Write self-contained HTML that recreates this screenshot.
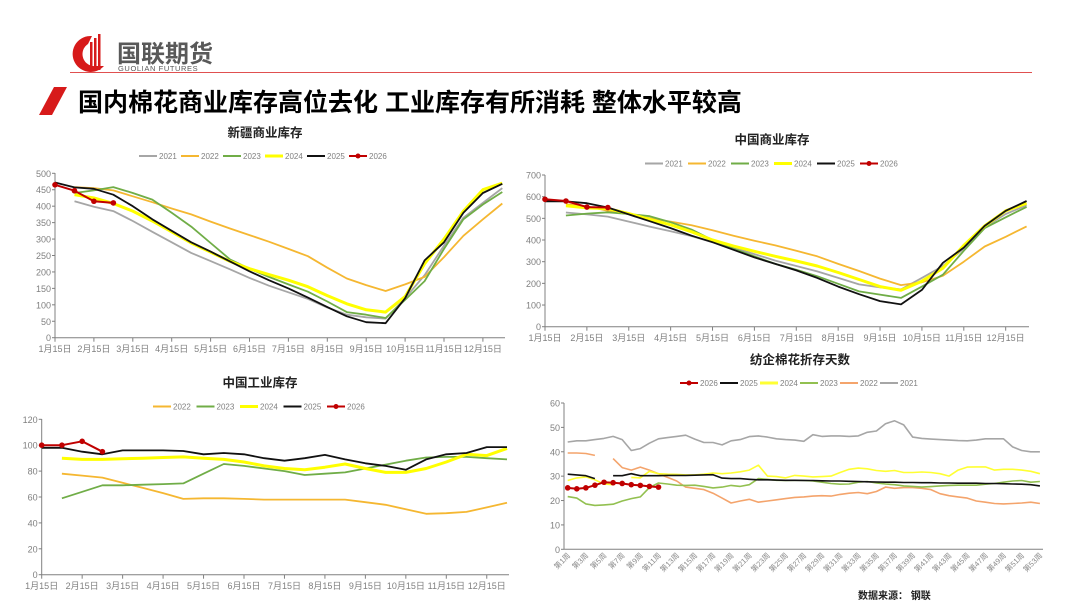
<!DOCTYPE html>
<html><head><meta charset="utf-8">
<style>
html,body{margin:0;padding:0;background:#fff;}
body{width:1080px;height:608px;overflow:hidden;position:relative;font-family:"Liberation Sans","Noto Sans CJK SC",sans-serif;}
svg text{font-family:"Liberation Sans","Noto Sans CJK SC",sans-serif;}
</style></head>
<body>
<svg id="s" width="1080" height="608" viewBox="0 0 1080 608" xmlns="http://www.w3.org/2000/svg">
  <g>
    <path d="M92 36 A18 18 0 1 0 104 66 L96 66 A12 12 0 0 1 88 44 Z" fill="#d71a1a"/>
    <rect x="90" y="42" width="2.5" height="28" fill="#d71a1a"/>
    <rect x="94" y="38" width="2.5" height="32" fill="#d71a1a"/>
    <rect x="98" y="34" width="2.5" height="36" fill="#d71a1a"/>
    <text x="117" y="62" font-size="24" font-weight="bold" fill="#595959">国联期货</text>
    <text x="118" y="71" font-size="7.5" fill="#595959" letter-spacing="0.6">GUOLIAN FUTURES</text>
  </g>
  <line x1="70" y1="72.5" x2="1032" y2="72.5" stroke="#e05050" stroke-width="1"/>
  <polygon points="54,87 67,87 52,115 39,115" fill="#d71a1a"/>
  <text x="78" y="111" font-size="25" font-weight="bold" fill="#000">国内棉花商业库存高位去化 工业库存有所消耗 整体水平较高</text>
  <text x="858" y="599" font-size="10" font-weight="bold" fill="#222">数据来源：   钢联</text>
</svg>
<script>
const NS='http://www.w3.org/2000/svg';
const svg=document.getElementById('s');
function mk(tag,attrs,parent){const e=document.createElementNS(NS,tag);for(const k in attrs)e.setAttribute(k,attrs[k]);(parent||svg).appendChild(e);return e;}

// ---------- data ----------
const monthLabels=['1月15日','2月15日','3月15日','4月15日','5月15日','6月15日','7月15日','8月15日','9月15日','10月15日','11月15日','12月15日'];
const c1Years=['2021','2022','2023','2024','2025','2026'];
const c1_2021=[null,415,398,385,355,322,290,258,233,208,182,158,138,118,92,70,62,58,120,190,280,365,410,455];
const c1_2022=[null,458,455,448,430,412,393,375,353,332,312,292,270,248,213,180,160,142,162,185,245,310,360,408];
const c1_2023=[null,440,448,458,440,420,380,338,288,238,210,185,162,140,110,78,70,60,115,172,270,360,405,443];
const c1_2024=[null,435,425,408,385,355,322,288,260,232,210,192,175,155,128,103,85,78,125,225,300,385,450,470];
const c1_2025=[472,457,453,435,400,360,325,290,262,232,202,175,150,122,93,65,47,44,120,235,290,380,440,468];
const c1_2026=[465,447,415,410];
const c1Ticks=[0,50,100,150,200,250,300,350,400,450,500];

const c2_2021=[null,527,518,508,485,462,440,418,390,365,335,305,280,255,225,195,182,172,225,280,360,460,520,560];
const c2_2022=[null,565,555,535,520,500,485,468,445,420,397,375,350,325,290,257,222,192,205,235,300,370,415,463];
const c2_2023=[null,513,522,528,520,510,482,448,400,360,325,290,263,233,198,163,148,133,185,240,350,455,505,553];
const c2_2024=[null,558,548,545,522,495,470,438,400,372,348,325,303,280,250,218,185,168,210,270,375,465,535,570];
const c2_2025=[578,578,570,550,518,487,455,420,390,355,320,290,260,225,185,150,118,103,170,295,365,465,535,580];
const c2_2026=[588,580,552,550];
const c2Ticks=[0,100,200,300,400,500,600,700];

const c3Years=['2022','2023','2024','2025','2026'];
const c3_2022=[null,78,76.5,75,71,67,63,58.5,59,59,58.5,58,58,58,58,58,56,54,50.5,47,47.5,48.5,52,55.5];
const c3_2023=[null,59,64,69,69,69.5,70,70.5,78,85.5,84,82,80,77,78,79,82,85,88,90.5,91,91,90,89];
const c3_2024=[null,90,89,89,89.5,90,90.5,91,90,89,87,84,82,81,83,85.5,82,79,79,82,87,93,92,97.5];
const c3_2025=[98,98,95,93,96,96,96,95.5,93,94,93,90,88,90,92.5,89,86,84,81,89,93,94,98.5,98.5];
const c3_2026=[100,100,103,95];
const c3Ticks=[0,20,40,60,80,100,120];

const c4Years=['2026','2025','2024','2023','2022','2021'];
const c4_2021=[44,44.5,44.5,45,45.5,46.3,45,40.5,41.3,43.5,45.3,45.8,46.3,46.8,45.2,43.8,43.8,42.8,44.5,45,46.2,46.5,46,45.3,45,44.8,44.3,47,46.3,46.5,46.5,46.3,46.5,48,48.5,51.5,52.7,51,46,45.5,45.2,45,44.8,44.6,44.5,44.8,45.3,45.3,45.3,42,40.5,40,40];
const c4_2022=[39.5,39.5,39.3,38.5,null,37.2,33.5,32.5,33.7,32.5,31,29.5,28,25.5,25,24.5,23,21,19,19.8,20.5,19.3,19.8,20.3,20.8,21.3,21.5,21.8,22,21.8,22.5,23,23.3,22.8,23.7,25.5,25,25.3,25.3,25,24.5,22.8,22,21.5,21,19.8,19.3,18.8,18.6,18.8,19,19.3,18.8];
const c4_2023=[21.6,21,18.6,18,18.2,18.5,19.8,20.8,21.5,25.3,27.2,26.8,26.3,26.2,26.3,25.8,25.2,25.5,26.2,25.8,26.5,29,28.7,28.3,28.2,28.3,28.3,28,27.5,27,26.7,26.8,27.5,27.8,27.2,26.8,26.5,26,25.8,25.5,25.7,26,26.2,26.3,26.3,26.3,26.7,27,27.5,28,28.2,27.5,27.8];
const c4_2024=[28.2,29.3,29.7,28.5,26.8,26.5,null,29.5,29.3,32,31,30.8,30.7,30.5,30.5,30.8,31.3,31,31.3,31.8,32.5,34.5,30,29.8,29.3,30.3,30,29.7,29.8,30,31.5,32.8,33.3,33,32.3,32,32.3,31.5,31.5,31.7,31.5,31,30,32.5,33.7,33.8,33.8,32.5,32.8,32.8,32.5,32,31];
const c4_2025=[30.8,30.5,30.2,29,null,30.2,30.2,31,30.2,30.2,30.2,30.3,30.3,30.3,30.4,30.5,30.6,29.2,29,29,28.7,28.5,28.5,28.4,28.3,28.3,28.2,28.2,28.1,28,28,27.9,27.8,27.7,27.6,27.5,27.5,27.4,27.4,27.3,27.3,27.2,27.2,27.1,27.1,27.1,27,27,26.9,26.8,26.7,26.5,26];
const c4_2026=[25.2,24.8,25.2,26.3,27.5,27.3,27,26.5,26.2,25.8,25.5];
const c4Ticks=[0,10,20,30,40,50,60];

const COL={'2021':'#a6a6a6','2022':'#f5b731','2023':'#70ad47','2024':'#ffff00','2025':'#111111','2026':'#c00000'};
const COL4={'2021':'#a6a6a6','2022':'#f4a46c','2023':'#92c050','2024':'#ffff33','2025':'#111111','2026':'#c00000'};

// ---------- helpers ----------
function axisFns(x0,step,yTop,yBot,vmax){return {x:i=>x0+i*step,y:v=>yBot-(v/vmax)*(yBot-yTop)};}
function drawSeries(g,vals,ax,color,w,marker,name){
  let d='',pen=false;
  vals.forEach((v,i)=>{if(v===null||v===undefined){pen=false;return;}d+=(pen?'L':'M')+ax.x(i).toFixed(1)+' '+ax.y(v).toFixed(1)+' ';pen=true;});
  const p=mk('path',{d:d,fill:'none',stroke:color,'stroke-width':w,'stroke-linejoin':'round'},g);
  
  
  if(marker){vals.forEach((v,i)=>{if(v===null)return;
    const c=mk('circle',{cx:ax.x(i),cy:ax.y(v),r:2.8,fill:color},g);
    
    });}
}
function drawYAxis(g,ax,ticks,xAxis,yTop,yBot){
  const l=mk('line',{x1:xAxis,y1:yTop,x2:xAxis,y2:yBot,stroke:'#808080','stroke-width':1},g);
  
  
  ticks.forEach(t=>{const y=ax.y(t);
    mk('line',{x1:xAxis-3,y1:y,x2:xAxis,y2:y,stroke:'#808080','stroke-width':1},g);
    const tx=mk('text',{x:xAxis-4,y:y+3.5,'font-size':9,'text-anchor':'end',fill:'#7f7f7f'},g);tx.textContent=t;
    
    });
}
function drawXAxisMonths(g,ax,yBot,xEnd,labelY){
  const l=mk('line',{x1:ax.x(0),y1:yBot,x2:xEnd,y2:yBot,stroke:'#808080','stroke-width':1},g);
  
  
  monthLabels.forEach((m,k)=>{const x=ax.x(k*2);
    mk('line',{x1:x,y1:yBot,x2:x,y2:yBot+4,stroke:'#808080','stroke-width':1},g);
    const tx=mk('text',{x:x,y:labelY,'font-size':9,'text-anchor':'middle',fill:'#7f7f7f'},g);tx.textContent=m;
    
    });
}
function drawTitle(g,text,x,y){const t=mk('text',{x:x,y:y,'font-size':12.5,'font-weight':'bold','text-anchor':'middle',fill:'#222'},g);t.textContent=text;
  
  }
function drawLegend(g,years,cols,x,y,gap){
  years.forEach((yr,k)=>{const lx=x+k*gap;
    const lg=mk('g',{},g);
    
    
    mk('line',{x1:lx,y1:y,x2:lx+18,y2:y,stroke:cols[yr],'stroke-width':yr==='2024'?3:2},lg);
    if(yr==='2026')mk('circle',{cx:lx+9,cy:y,r:2.5,fill:cols[yr]},lg);
    const t=mk('text',{x:lx+20,y:y+3,'font-size':8,fill:'#7f7f7f'},lg);t.textContent=yr;});
}
function W(yr){return yr==='2024'?3:(yr==='2026'?2:1.8);}

// ---------- chart 1 ----------
const g1=mk('g',{});
const a1=axisFns(55,19.45,173.3,337.7,500);
drawTitle(g1,'新疆商业库存',265,137);
drawLegend(g1,c1Years,COL,139,156,42);
drawYAxis(g1,a1,c1Ticks,55,173,338);
drawXAxisMonths(g1,a1,337.7,505,352);
const s1={'2021':c1_2021,'2022':c1_2022,'2023':c1_2023,'2024':c1_2024,'2025':c1_2025,'2026':c1_2026};
['2021','2022','2023','2024','2025','2026'].forEach(yr=>drawSeries(g1,s1[yr],a1,COL[yr],W(yr),yr==='2026','xj-line-'+yr));

// ---------- chart 2 ----------
const g2=mk('g',{});
const a2=axisFns(545,20.94,175,326.7,700);
drawTitle(g2,'中国商业库存',772,144);
drawLegend(g2,c1Years,COL,645,163.5,43);
drawYAxis(g2,a2,c2Ticks,545,175,327);
drawXAxisMonths(g2,a2,326.7,1029,341);
const s2={'2021':c2_2021,'2022':c2_2022,'2023':c2_2023,'2024':c2_2024,'2025':c2_2025,'2026':c2_2026};
['2021','2022','2023','2024','2025','2026'].forEach(yr=>drawSeries(g2,s2[yr],a2,COL[yr],W(yr),yr==='2026','cn-line-'+yr));

// ---------- chart 3 ----------
const g3=mk('g',{});
const a3=axisFns(41.7,20.23,419.3,574.7,120);
drawTitle(g3,'中国工业库存',260,387);
drawLegend(g3,c3Years,COL,153,406.5,43.5);
drawYAxis(g3,a3,c3Ticks,41.7,419,575);
drawXAxisMonths(g3,a3,574.7,509,589);
const s3={'2022':c3_2022,'2023':c3_2023,'2024':c3_2024,'2025':c3_2025,'2026':c3_2026};
['2022','2023','2024','2025','2026'].forEach(yr=>drawSeries(g3,s3[yr],a3,COL[yr],W(yr),yr==='2026','ind-line-'+yr));

// ---------- chart 4 ----------
const g4=mk('g',{});
const a4=axisFns(567.7,9.08,403,549.3,60);
drawTitle(g4,'纺企棉花折存天数',800,364);
drawLegend(g4,c4Years,COL4,680,383,40);
drawYAxis(g4,a4,c4Ticks,564,403,549.3);
const xl=mk('line',{x1:564,y1:549.3,x2:1043,y2:549.3,stroke:'#808080','stroke-width':1},g4);


for(let w=1;w<=53;w+=2){const x=a4.x(w-1);
  const t=mk('text',{x:x+3,y:556,'font-size':7.5,'text-anchor':'end',fill:'#8a8a8a',transform:'rotate(-45 '+(x+3)+' 556)'},g4);
  t.textContent='第'+w+'周';
  
  }
const s4={'2021':c4_2021,'2022':c4_2022,'2023':c4_2023,'2024':c4_2024,'2025':c4_2025,'2026':c4_2026};
['2021','2022','2023','2024','2025','2026'].forEach(yr=>drawSeries(g4,s4[yr],a4,COL4[yr],yr==='2026'?2:1.6,yr==='2026','days-line-'+yr));
</script>
</body></html>
